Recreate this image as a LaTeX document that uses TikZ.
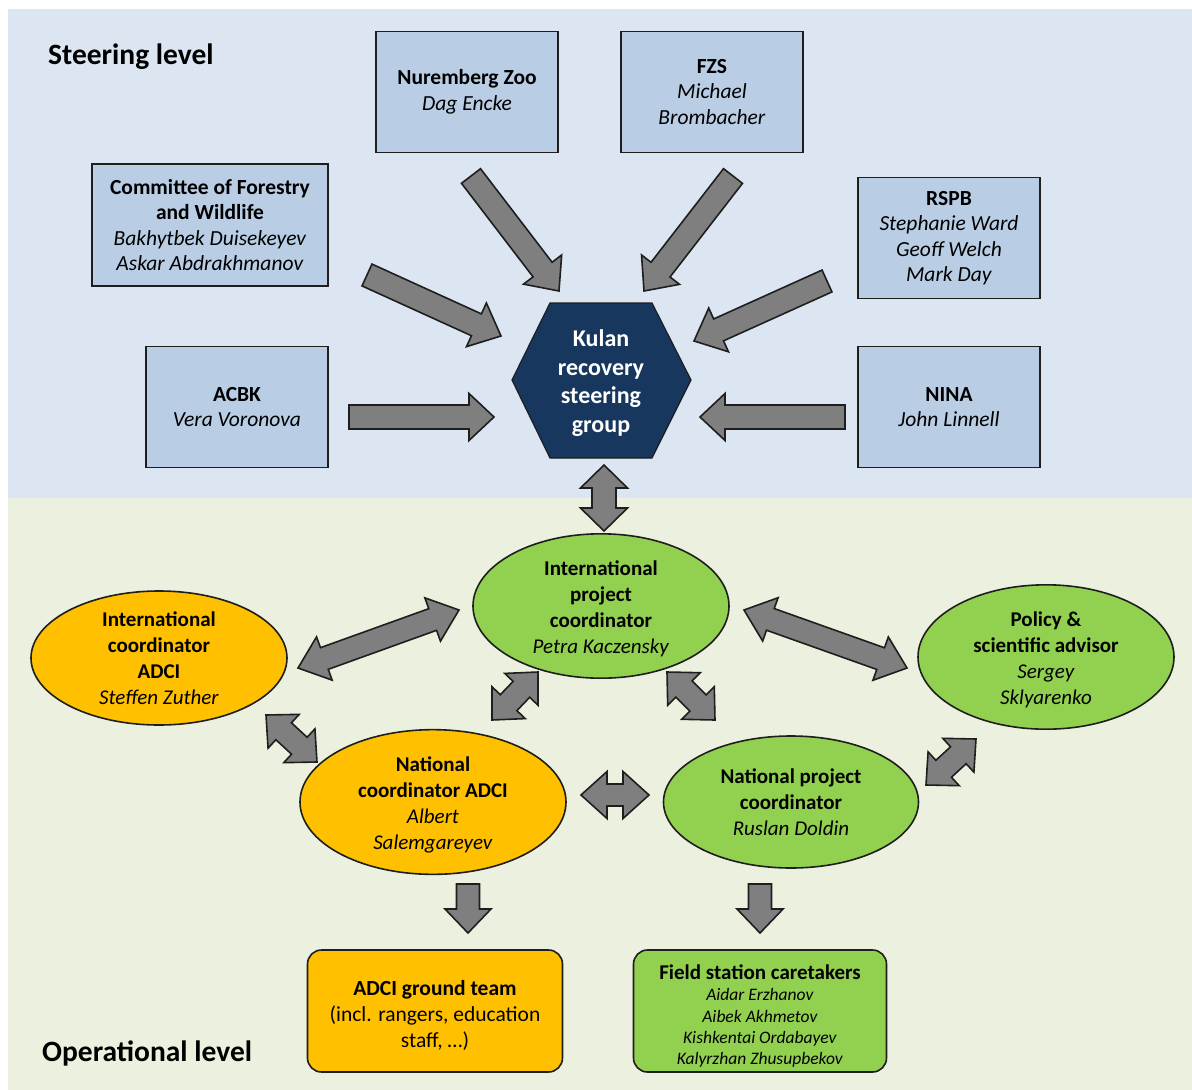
\documentclass[tikz,border=0pt]{standalone}
\usepackage{fontspec}
\setmainfont{Carlito}
\usetikzlibrary{calc,shapes.geometric}
\definecolor{bgblue}{HTML}{DCE6F2}
\definecolor{bggreen}{HTML}{EBF1DE}
\definecolor{boxblue}{HTML}{B9CDE5}
\definecolor{hexblue}{HTML}{17375E}
\definecolor{orgfill}{HTML}{FFC000}
\definecolor{grnfill}{HTML}{92D050}
\definecolor{arrowgray}{HTML}{7F7F7F}
\definecolor{edge}{HTML}{1E1E1E}
\tikzset{
  orgbox/.style={draw=edge, line width=1.6pt, fill=boxblue, minimum width=182pt, minimum height=121pt, inner sep=0pt, align=center, font=\fontsize{21.5}{25.5}\selectfont},
  ellnode/.style={ellipse, draw=edge, line width=1.6pt, inner sep=0pt, align=center, font=\fontsize{21}{25.9}\selectfont},
  rbox/.style={rectangle, rounded corners=14pt, draw=edge, line width=1.6pt, inner sep=0pt, align=center, minimum width=255pt, minimum height=122pt},
  levellabel/.style={anchor=west, inner sep=0pt, font=\bfseries\fontsize{29.5}{34}\selectfont},
  blockarrow/.style={fill=arrowgray, draw=edge, line width=1.6pt, line join=miter},
}
\newcommand{\sarrow}[5]{%
  \path ($(#2)!#5!(#1)$) coordinate (hb);
  \draw[blockarrow] ($(#1)!#3!90:(#2)$) -- ($(hb)!#3!90:(#2)$) -- ($(hb)!#4!90:(#2)$) -- (#2)
    -- ($(hb)!#4!-90:(#2)$) -- ($(hb)!#3!-90:(#2)$) -- ($(#1)!#3!-90:(#2)$) -- cycle;
}
\newcommand{\darrow}[5]{%
  \path ($(#1)!#5!(#2)$) coordinate (ha) ($(#2)!#5!(#1)$) coordinate (hb);
  \draw[blockarrow] (#1) -- ($(ha)!#4!90:(#2)$) -- ($(ha)!#3!90:(#2)$) -- ($(hb)!#3!90:(#2)$)
    -- ($(hb)!#4!90:(#2)$) -- (#2) -- ($(hb)!#4!-90:(#2)$) -- ($(hb)!#3!-90:(#2)$)
    -- ($(ha)!#3!-90:(#2)$) -- ($(ha)!#4!-90:(#2)$) -- cycle;
}
\begin{document}
\begin{tikzpicture}[x=1pt,y=-1pt]
\useasboundingbox (0,0) rectangle (1192,1090);
\fill[white] (0,0) rectangle (1192,1090);
\fill[bgblue] (8,9) rectangle (1192,498);
\fill[bggreen] (8,498) rectangle (1192,1090);

\node[levellabel] (steer) at (48,57) {Steering level};
\node[levellabel] (oper) at (42,1053) {Operational level};

% steering boxes
\node[orgbox] (nur) at (467,92) {\textbf{Nuremberg Zoo}\\\textit{Dag Encke}};
\node[orgbox] (fzs) at (712,92) {\textbf{FZS}\\\textit{Michael}\\\textit{Brombacher}};
\node[orgbox, minimum width=236pt, minimum height=122pt] (cfw) at (210,225) {\textbf{Committee of Forestry}\\\textbf{and Wildlife}\\\textit{Bakhytbek Duisekeyev}\\\textit{Askar Abdrakhmanov}};
\node[orgbox] (rspb) at (949,238) {\textbf{RSPB}\\\textit{Stephanie Ward}\\\textit{Geoff Welch}\\\textit{Mark Day}};
\node[orgbox] (acbk) at (237,407) {\textbf{ACBK}\\\textit{Vera Voronova}};
\node[orgbox] (nina) at (949,407) {\textbf{NINA}\\\textit{John Linnell}};

% hexagon
\fill[hexblue] (512,380) -- (550,303) -- (652,303) -- (691,380) -- (652,458) -- (550,458) -- cycle;
\draw[edge, line width=1.2pt] (512,380) -- (550,303) -- (652,303) -- (691,380) -- (652,458) -- (550,458) -- cycle;
\node[align=center, text=white, inner sep=0pt, font=\bfseries\fontsize{24}{28.5}\selectfont] (hex) at (601,383) {Kulan\\recovery\\steering\\group};

% operational nodes
\node[ellnode, fill=grnfill, minimum width=256pt, minimum height=133pt] (ipc) at (601,606) {\rule{0pt}{21pt}\textbf{International}\\\textbf{project}\\\textbf{coordinator}\\\textit{Petra Kaczensky}};
\node[ellnode, fill=orgfill, minimum width=256pt, minimum height=134pt] (ica) at (159,658) {\textbf{International}\\\textbf{coordinator}\\\textbf{ADCI}\\\textit{Steffen Zuther}};
\node[ellnode, fill=grnfill, minimum width=256pt, minimum height=131pt] (psa) at (1046,657) {\rule{0pt}{21pt}\textbf{Policy \&}\\\textbf{scientific advisor}\\\textit{Sergey}\\\textit{Sklyarenko}};
\node[ellnode, fill=orgfill, minimum width=266pt, minimum height=132pt] (nca) at (433,802) {\rule{0pt}{21pt}\textbf{National}\\\textbf{coordinator ADCI}\\\textit{Albert}\\\textit{Salemgareyev}};
\node[ellnode, fill=grnfill, minimum width=255pt, minimum height=132pt] (npc) at (791,802) {\textbf{National project}\\\textbf{coordinator}\\\textit{Ruslan Doldin}};

\node[rbox, fill=orgfill, font=\fontsize{21.5}{26}\selectfont] (agt) at (435,1011) {\rule{0pt}{24pt}\textbf{ADCI ground team}\\(incl. rangers, education\\staff, \dots)};
\node[rbox, fill=grnfill, minimum width=253pt, font=\fontsize{17.5}{21.3}\selectfont] (fsc) at (760,1011) {\rule{0pt}{25pt}{\fontsize{21}{21.3}\selectfont\bfseries Field station caretakers}\\\textit{Aidar Erzhanov}\\\textit{Aibek Akhmetov}\\\textit{Kishkentai Ordabayev}\\\textit{Kalyrzhan Zhusupbekov}};

% connector end points
\coordinate (nurA) at (471,176);  \coordinate (nurB) at (559,291);
\coordinate (fzsA) at (733,176);  \coordinate (fzsB) at (644,291);
\coordinate (cfwA) at (367,275);  \coordinate (cfwB) at (501,336);
\coordinate (rspbA) at (827,281); \coordinate (rspbB) at (694,341);
\coordinate (acbkA) at (349,417); \coordinate (acbkB) at (494,417);
\coordinate (ninaA) at (845,417); \coordinate (ninaB) at (700,417);
\coordinate (hexA) at (604,465);  \coordinate (ipcA) at (604,531);
\coordinate (icaB) at (298,668);  \coordinate (ipcB) at (459,610);
\coordinate (ipcC) at (744,610);  \coordinate (psaB) at (907,668);
\coordinate (icaC) at (266,715);  \coordinate (ncaB) at (317,762);
\coordinate (ipcD) at (538,672);  \coordinate (ncaC) at (492,720);
\coordinate (ipcE) at (667,672);  \coordinate (npcB) at (715,720);
\coordinate (psaC) at (976,739);  \coordinate (npcC) at (926,785);
\coordinate (ncaD) at (581,795);  \coordinate (npcD) at (649,795);
\coordinate (ncaE) at (468,884);  \coordinate (agtB) at (468,933);
\coordinate (npcE) at (760,884);  \coordinate (fscB) at (760,933);

% steering arrows
\sarrow{nurA}{nurB}{12pt}{24pt}{27pt}
\sarrow{fzsA}{fzsB}{12pt}{24pt}{27pt}
\sarrow{cfwA}{cfwB}{12pt}{24pt}{27pt}
\sarrow{rspbA}{rspbB}{12pt}{24pt}{27pt}
\sarrow{acbkA}{acbkB}{12pt}{23.5pt}{25pt}
\sarrow{ninaA}{ninaB}{12pt}{23.5pt}{25pt}
\darrow{hexA}{ipcA}{12pt}{23.5pt}{23pt}

% operational arrows
\darrow{icaB}{ipcB}{11.5pt}{23pt}{28pt}
\darrow{ipcC}{psaB}{11.5pt}{23pt}{28pt}
\darrow{icaC}{ncaB}{11.5pt}{23pt}{24pt}
\darrow{ipcD}{ncaC}{11.5pt}{23pt}{24pt}
\darrow{ipcE}{npcB}{11.5pt}{23pt}{24pt}
\darrow{psaC}{npcC}{11.5pt}{23pt}{24pt}
\darrow{ncaD}{npcD}{11pt}{23.5pt}{26pt}
\sarrow{ncaE}{agtB}{11.5pt}{23pt}{24pt}
\sarrow{npcE}{fscB}{11.5pt}{23pt}{24pt}
\end{tikzpicture}
\end{document}
